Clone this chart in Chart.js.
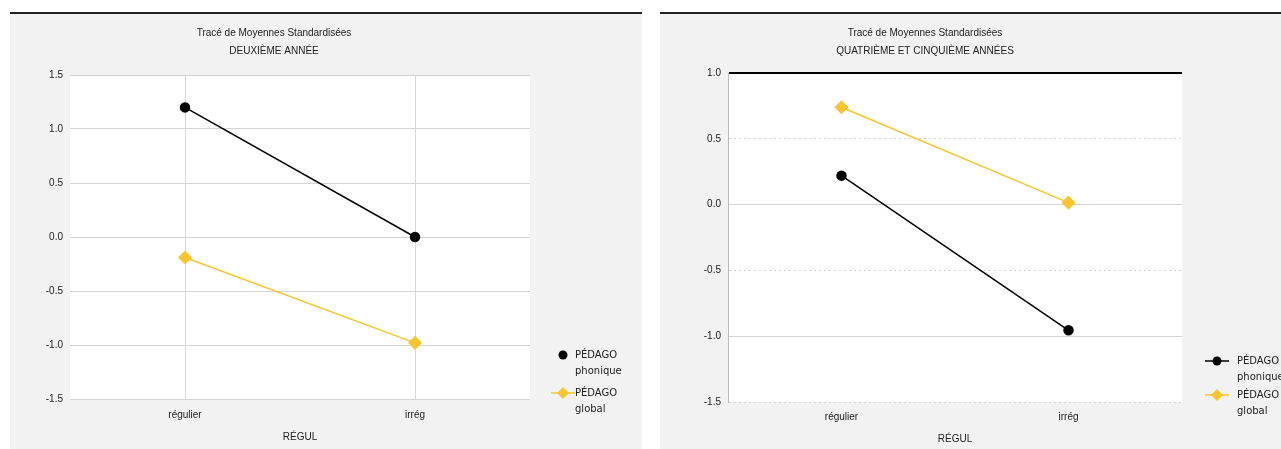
<!DOCTYPE html>
<html>
<head>
<meta charset="utf-8">
<script src="https://cdn.jsdelivr.net/npm/chart.js@4.4.0/dist/chart.umd.min.js"></script>
<style>
  body { margin: 0; width: 1281px; height: 449px; background: #fff; position: relative; overflow: hidden; font-family: "DejaVu Sans", sans-serif; }
  .panel { position: absolute; top: 12px; height: 435px; background: #f2f2f2; border-top: 2px solid #222; }
  #p1 { left: 10px; width: 632px; }
  #p2 { left: 660px; width: 621px; }
</style>
</head>
<body>
<div class="panel" id="p1"><canvas id="c1" width="632" height="435"></canvas></div>
<div class="panel" id="p2"><canvas id="c2" width="621" height="435"></canvas></div>
<script>
// data
const categories = ['régulier', 'irrég'];
const seriesNames = [['PÉDAGO', 'phonique'], ['PÉDAGO', 'global']];
const secondYear = { phonique: [1.20, 0.00], global: [-0.19, -0.98] };
const fourthFifthYear = { phonique: [0.22, -0.955], global: [0.74, 0.015] };
const yTicks1 = [-1.5, 1.5];
const yTicks2 = [-1.5, 1.0];
const titles1 = ['Tracé de Moyennes Standardisées', 'DEUXIÈME ANNÉE'];
const titles2 = ['Tracé de Moyennes Standardisées', 'QUATRIÈME ET CINQUIÈME ANNÉES'];
const xTitle = 'RÉGUL';

const BLACK = '#000000';
const YELLOW = '#f7c52f';

const plotBg = {
  id: 'plotBg',
  beforeDraw(chart) {
    const a = chart.chartArea, c = chart.ctx;
    c.save();
    c.fillStyle = '#ffffff';
    c.fillRect(a.left, a.top, a.right - a.left, a.bottom - a.top);
    c.restore();
  }
};

// legend drawn to the right of the plot, near the bottom
const sideLegend = {
  id: 'sideLegend',
  afterDraw(chart, args, opts) {
    const c = chart.ctx;
    c.save();
    c.font = '10px "DejaVu Sans", sans-serif';
    c.textBaseline = 'middle';
    chart.data.datasets.forEach((ds, i) => {
      const y = opts.y[i];
      const mx = opts.x;
      if (opts.lines[i]) {
        c.strokeStyle = ds.borderColor;
        c.lineWidth = 1.5;
        c.beginPath();
        c.moveTo(mx - 12, y);
        c.lineTo(mx + 12, y);
        c.stroke();
      }
      c.fillStyle = ds.backgroundColor;
      c.beginPath();
      if (ds.pointStyle === 'rectRot') {
        c.moveTo(mx, y - 6); c.lineTo(mx + 6, y); c.lineTo(mx, y + 6); c.lineTo(mx - 6, y);
        c.closePath();
      } else {
        c.arc(mx, y, 4.5, 0, Math.PI * 2);
      }
      c.fill();
      c.fillStyle = '#222';
      seriesNames[i].forEach((t, k) => c.fillText(t, mx + opts.textGap, y + k * 16));
    });
    c.restore();
  }
};

function makeChart(id, data, ticks, titles, lay, legendOpts, isRight) {
  return new Chart(document.getElementById(id), {
    type: 'line',
    data: {
      labels: categories,
      datasets: [
        { label: seriesNames[0].join(' '), data: data.phonique, borderColor: BLACK, backgroundColor: BLACK,
          pointStyle: 'circle', pointRadius: 4.5, borderWidth: 1.5 },
        { label: seriesNames[1].join(' '), data: data.global, borderColor: YELLOW, backgroundColor: YELLOW,
          pointStyle: 'rectRot', pointRadius: 6, borderWidth: 1.5 }
      ]
    },
    options: {
      responsive: false,
      animation: false,
      layout: { padding: { top: 6, left: 8, right: lay.right, bottom: 0 } },
      plugins: {
        legend: { display: false },
        tooltip: { enabled: false },
        title: { display: true, text: titles, color: '#222', font: { size: 10, weight: 'normal', lineHeight: 1.8 },
                 padding: { top: 4, bottom: lay.titleGap } },
        sideLegend: legendOpts
      },
      scales: {
        x: {
          offset: true,
          afterFit(s) { s.height = lay.xHeight; },
          grid: { display: !isRight, color: '#d8d8d8', offset: false, drawTicks: false },
          border: { display: false },
          ticks: { color: '#222', font: { size: 10 }, padding: lay.tickPad },
          title: { display: true, text: xTitle, color: '#222', font: { size: 10 }, padding: { top: 4, bottom: lay.xTitlePad } }
        },
        y: {
          min: ticks[0], max: ticks[1],
          afterFit(s) { s.width = lay.yWidth; },
          ticks: { stepSize: 0.5, color: '#222', font: { size: 10 }, padding: 7,
                   callback: v => v.toFixed(1) },
          grid: {
            drawTicks: false,
            color: ctx => (isRight && ctx.tick && ctx.tick.value === ticks[1]) ? '#000' : '#d4d4d4',
            lineWidth: ctx => (isRight && ctx.tick && ctx.tick.value === ticks[1]) ? 2 : 1
          },
          border: {
            display: isRight, color: '#bbbbbb',
            dash: ctx => (isRight && ctx.tick && Math.abs(ctx.tick.value % 1) === 0.5) ? [2, 3] : []
          }
        }
      }
    },
    plugins: [plotBg, sideLegend]
  });
}

makeChart('c1', secondYear, yTicks1, titles1,
  { right: 112, titleGap: 15, xHeight: 50, tickPad: 10, xTitlePad: 6, yWidth: 52 },
  { x: 553, y: [341, 379], lines: [false, true], textGap: 12 }, false);
makeChart('c2', fourthFifthYear, yTicks2, titles2,
  { right: 99, titleGap: 13, xHeight: 47, tickPad: 9, xTitlePad: 4, yWidth: 60 },
  { x: 557, y: [347, 381], lines: [true, true], textGap: 20 }, true);
</script>
</body>
</html>
